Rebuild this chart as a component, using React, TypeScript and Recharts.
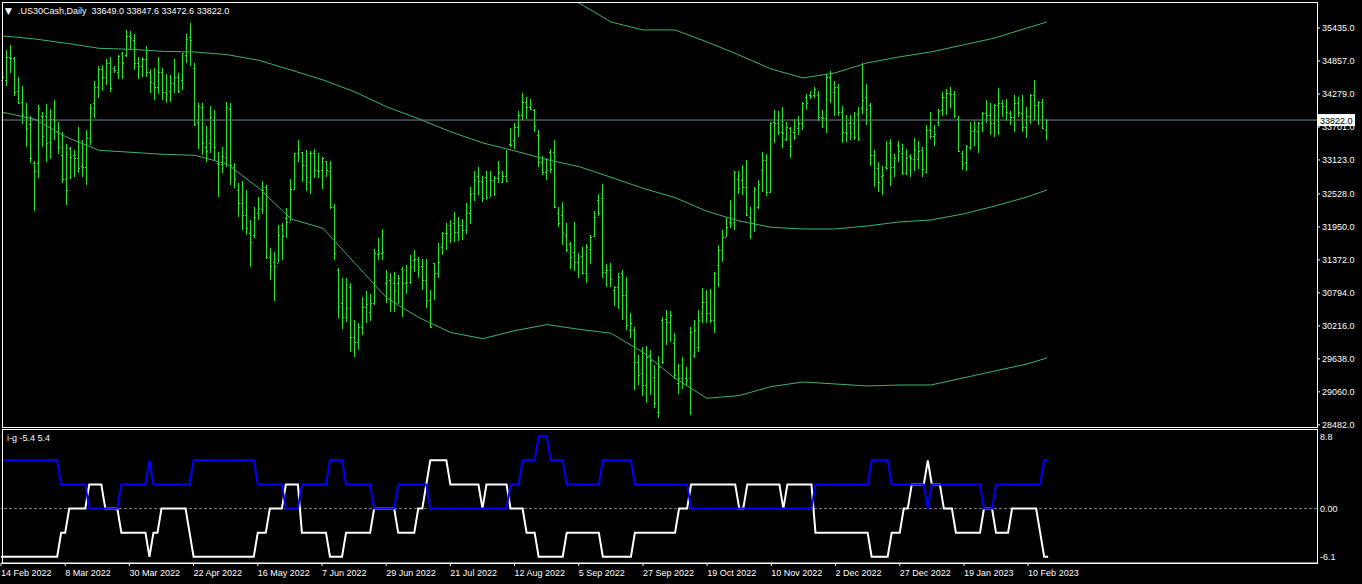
import React from 'react';
import { ComposedChart, Bar, Line, XAxis, YAxis, ReferenceLine } from 'recharts';

const FONT = "'Liberation Sans', Arial, sans-serif";
const BAR_COLOR = '#22e622';
const ENV_COLOR = '#3cb371';

const dateLabels = [
  '14 Feb 2022', '8 Mar 2022', '30 Mar 2022', '22 Apr 2022', '16 May 2022', '7 Jun 2022',
  '29 Jun 2022', '21 Jul 2022', '12 Aug 2022', '5 Sep 2022', '27 Sep 2022', '19 Oct 2022',
  '10 Nov 2022', '2 Dec 2022', '27 Dec 2022', '19 Jan 2023', '10 Feb 2023',
];
const dateTickIdx = [0, 16, 32, 48, 64, 80, 96, 112, 128, 144, 160, 176, 192, 208, 224, 240, 256];

const priceTicks = [35435, 34857, 34279, 33701, 33123, 32528, 31950, 31372, 30794, 30216, 29638, 29060, 28482];
const subTicks = [8.8, 0, -6.1];

// daily OHLC, one entry per bar
const opens = [
  34520, 34524, 34921, 34903, 34331, 34144, 33881, 33753, 33075, 33075,
  33887, 33887, 33432, 33835, 33619, 33210, 32783, 33327, 33210, 33163,
  33017, 33005, 33502, 34115, 34407, 34711, 34571, 34816, 34728, 34670,
  34991, 34962, 35295, 35225, 34827, 34769, 34886, 34670, 34465, 34407,
  34670, 34319, 34331, 34465, 34571, 34524, 34962, 35283, 34728, 33793,
  34045, 33356, 33414, 33823, 33075, 33052, 33181, 34010, 33005, 32597,
  32363, 32159, 31837, 31808, 32188, 32258, 32644, 31429, 31341, 31312,
  31984, 32101, 32042, 32609, 33239, 33269, 33029, 32743, 33251, 32947,
  32947, 33100, 32936, 32305, 31200, 30623, 30366, 30903, 30016, 29940,
  30203, 30553, 30465, 30611, 31476, 31499, 30973, 31020, 30973, 30962,
  31207, 30962, 30990, 31371, 31382, 31265, 31020, 30670, 31312, 31137,
  31600, 31850, 31984, 32013, 31867, 31984, 31896, 32188, 32540, 32842,
  32761, 32819, 32480, 32772, 32801, 32743, 32842, 33400, 33473, 33695,
  33911, 34145, 34045, 34000, 33560, 33093, 32918, 33269, 33269, 32188,
  32159, 31808, 31651, 31517, 31341, 31447, 31148, 31557, 31797, 32422,
  32451, 31166, 31195, 30845, 30903, 31148, 30757, 30144, 30144, 29589,
  29397, 29181, 29706, 29327, 28713, 30320, 30331, 30290, 29911, 29210,
  29298, 29298, 29298, 29706, 29852, 30448, 30641, 30448, 30320, 31283,
  31546, 31779, 32042, 32042, 32784, 32772, 32655, 32130, 32013, 32305,
  32947, 33122, 32568, 33794, 33765, 33619, 33484, 33677, 33618, 33677,
  33776, 34220, 34261, 34261, 34261, 33881, 33852, 34582, 34319, 34395,
  33969, 33618, 33776, 33776, 33928, 34027, 34220, 34090, 33210, 32976,
  32842, 33005, 33414, 33005, 33385, 33239, 32900, 33192, 33134, 33134,
  33297, 32918, 33648, 33543, 33794, 33998, 34220, 34290, 34278, 33834,
  33239, 33093, 33344, 33636, 33636, 33776, 33940, 33910, 33776, 34086,
  34115, 34068, 33951, 33881, 34115, 33940, 33706, 33893, 34261, 34086,
  34144, 33649,
];
const highs = [
  34863, 35049, 35137, 34921, 34582, 34425, 34121, 33893, 33099, 34086,
  33963, 34103, 34016, 34173, 33794, 33619, 33403, 33356, 33298, 33700,
  33473, 33648, 34097, 34506, 34775, 34787, 34892, 34921, 34763, 34962,
  35020, 35400, 35382, 35324, 34933, 34933, 35119, 34711, 34728, 34933,
  34728, 34629, 34611, 34886, 34641, 35003, 35330, 35517, 34816, 34127,
  34127, 33718, 34068, 33998, 33262, 33356, 34138, 34115, 33064, 32725,
  32754, 32597, 32071, 32305, 32480, 32760, 32685, 31575, 31505, 31984,
  32013, 32276, 32784, 33239, 33473, 33269, 33298, 33280, 33309, 33239,
  33181, 33111, 33111, 32346, 31225, 31049, 31061, 30973, 30320, 30261,
  30717, 30827, 30775, 31557, 31750, 31908, 31195, 31137, 31166, 31108,
  31254, 31283, 31458, 31546, 31429, 31382, 31382, 30845, 31324, 31663,
  31867, 32025, 32071, 32217, 32118, 32083, 32363, 32644, 32930, 32994,
  32842, 32930, 32930, 32842, 33111, 32936, 33298, 33677, 33765, 33987,
  34291, 34221, 34185, 34016, 33648, 33193, 33152, 33309, 33473, 32305,
  32393, 32013, 31692, 32042, 31487, 31604, 31651, 31808, 32235, 32527,
  32702, 31300, 31324, 30915, 31137, 31195, 31079, 30436, 30191, 29706,
  29852, 29864, 29794, 29531, 29689, 30378, 30495, 30483, 30098, 29549,
  29677, 29490, 30203, 30320, 30495, 30874, 30845, 30862, 31166, 31633,
  31896, 32118, 32422, 32936, 32936, 33035, 33122, 32305, 32655, 32772,
  33269, 33228, 33783, 33999, 33987, 34057, 33794, 33706, 33834, 33893,
  34144, 34278, 34337, 34395, 34337, 33998, 34629, 34687, 34512, 34454,
  34068, 33910, 33910, 33969, 34045, 34827, 34454, 34115, 33297, 33093,
  33017, 33461, 33484, 33227, 33455, 33396, 33309, 33227, 33502, 33455,
  33344, 33735, 33969, 33735, 34010, 34319, 34360, 34407, 34337, 33893,
  33286, 33385, 33794, 33811, 33794, 33969, 34173, 34115, 34103, 34378,
  34173, 34185, 33986, 34261, 34232, 34261, 34056, 34278, 34524, 34162,
  34185, 33847.6,
];
const lows = [
  34290, 34425, 34641, 34232, 34115, 33765, 33356, 33075, 32217, 32813,
  33356, 33093, 33146, 33473, 33239, 32725, 32334, 32801, 32830, 32900,
  32830, 32690, 33385, 33852, 34209, 34331, 34430, 34314, 34641, 34547,
  34547, 34933, 35061, 34699, 34553, 34582, 34571, 34290, 34173, 34290,
  34173, 34115, 34144, 34290, 34290, 34349, 34827, 34758, 33706, 33327,
  33210, 33093, 33251, 33122, 32468, 32900, 33005, 32684, 32626, 32129,
  31896, 31808, 31242, 31767, 32071, 32188, 31382, 31009, 30641, 31312,
  31359, 31750, 32042, 32585, 33093, 32737, 32585, 32527, 32801, 32801,
  32615, 32831, 32276, 31371, 30349, 30156, 30290, 29765, 29677, 29794,
  30057, 30261, 30308, 30582, 31371, 31371, 30611, 30448, 30465, 30600,
  30378, 30775, 30950, 31166, 31067, 30845, 30524, 30173, 30670, 31049,
  31458, 31557, 31663, 31692, 31692, 31721, 31826, 32001, 32410, 32509,
  32393, 32422, 32470, 32492, 32725, 32725, 32743, 33345, 33309, 33531,
  33823, 33835, 33999, 33619, 33006, 32860, 32761, 32889, 32276, 31955,
  31633, 31499, 31213, 31184, 31049, 31137, 30973, 31300, 31780, 32141,
  31049, 30903, 30903, 30565, 30506, 30320, 30156, 29998, 29093, 29181,
  28988, 28859, 29005, 28772, 28597, 29560, 29881, 29940, 29298, 29023,
  29122, 29163, 28655, 29648, 29765, 30261, 30261, 30273, 30098, 30903,
  31341, 31770, 31926, 31908, 32539, 32509, 32141, 31750, 31867, 32258,
  32568, 32492, 32539, 33415, 33560, 33345, 33461, 33169, 33461, 33560,
  33648, 33998, 34202, 34202, 33811, 33677, 33601, 34126, 33893, 33893,
  33426, 33443, 33472, 33472, 33443, 33928, 33735, 33017, 32655, 32567,
  32509, 32947, 32666, 32818, 33093, 32859, 32859, 32830, 32918, 32958,
  32818, 32900, 33502, 33367, 33706, 33893, 33910, 34045, 33870, 33268,
  32958, 32935, 33309, 33367, 33250, 33618, 33764, 33560, 33519, 33560,
  33870, 33794, 33735, 33618, 33881, 33618, 33519, 33753, 33823, 33735,
  33659, 33472.6,
];
const closes = [
  34571, 34921, 34903, 34319, 34127, 33911, 33677, 33152, 32929, 34027,
  33543, 33414, 33840, 33823, 33344, 32783, 32597, 33181, 33163, 32988,
  33005, 33502, 34027, 34407, 34711, 34571, 34816, 34378, 34699, 34944,
  34816, 35295, 35254, 34827, 34769, 34886, 34670, 34483, 34407, 34670,
  34319, 34279, 34465, 34571, 34331, 34991, 35236, 35225, 33747, 34068,
  33414, 33280, 33881, 33356, 33052, 33192, 34045, 33035, 32795, 32363,
  32159, 31925, 31691, 32129, 32275, 32597, 31429, 31265, 31265, 31809,
  31797, 32042, 32609, 33239, 33309, 33029, 32819, 33239, 32947, 32930,
  33152, 32947, 32293, 31487, 30565, 30366, 30524, 30016, 29940, 30191,
  30553, 30600, 30611, 31487, 31499, 31517, 31009, 30670, 30845, 31049,
  30962, 30990, 31242, 31382, 31254, 31020, 30670, 30203, 31137, 31341,
  31850, 31838, 31838, 31867, 31984, 31896, 32217, 32527, 32772, 32761,
  32451, 32480, 32772, 32801, 32918, 32842, 32760, 33385, 33695, 33911,
  34145, 34045, 34010, 33718, 33093, 32918, 32947, 32965, 32305, 32013,
  31838, 31546, 31429, 31341, 31429, 31148, 31604, 31780, 32130, 32200,
  31166, 31195, 31032, 30892, 31079, 30757, 30232, 30261, 29589, 29356,
  29181, 29677, 29619, 28859, 29502, 29589, 30290, 30407, 29356, 29298,
  29210, 29268, 30115, 30144, 30320, 30641, 30436, 30320, 31137, 31546,
  31779, 31943, 32013, 32918, 32626, 32655, 32159, 32025, 32609, 32700,
  33122, 32568, 33765, 33765, 33619, 33590, 33707, 33367, 33531, 33764,
  34126, 34126, 34240, 34360, 33881, 33852, 34582, 34652, 34395, 33969,
  33618, 33589, 33589, 33519, 33484, 34173, 34010, 33210, 32877, 32742,
  32859, 32976, 32994, 33151, 33286, 32900, 33151, 33151, 33297, 33286,
  32958, 33648, 33543, 33578, 33986, 34220, 34290, 34278, 33910, 33286,
  33052, 33367, 33636, 33660, 33776, 33940, 33910, 33776, 34086, 34115,
  34068, 33969, 33881, 34126, 33969, 33706, 33893, 34261, 34086, 34144,
  33677, 33822.0,
];

// envelope (upper / middle / lower), read every 8 bars
const envIdx = [0, 8, 16, 24, 32, 40, 48, 56, 64, 72, 80, 88, 96, 104, 112, 120, 128, 136, 144, 152, 160, 168, 176, 184, 192, 200, 208, 216, 224, 232, 240, 248, 256, 261];
const envUpper = [null, null, null, null, null, null, null, null, null, null, null, null, null, null, null, null, null,
  36020, 35873, 35540, 35400, 35400, 35190, 34962, 34717, 34559, 34647, 34822, 34927, 35015, 35137, 35260, 35435, 35540];
const envMid = [35295, 35242, 35166, 35079, 35061, 35026, 35014, 34968, 34868, 34699, 34524, 34314, 34051, 33841, 33613, 33420, 33280,
  33128, 33006, 32819, 32626, 32463, 32223, 32054, 31943, 31913, 31913, 31966, 32036, 32071, 32176, 32316, 32474, 32597];
const envLower = [33957, 33835, 33519, 33292, 33257, 33222, 33204, 33052, 32626, 32089, 31925, 31312, 30699, 30360, 30098, 29992, 30133,
  30238, 30156, 30086, 29753, 29298, 28947, 28994, 29151, 29233, 29198, 29163, 29180, 29180, 29303, 29426, 29548, 29654];

// indicator window, runs of [value, number of bars]
const whiteRuns: [number, number][] = [
  [-5.4, 15], [-2.7, 2], [0, 5], [2.7, 4], [0, 4], [-2.7, 7], [-5.4, 1], [-2.7, 2], [0, 7], [-2.7, 1],
  [-5.4, 16], [-2.7, 3], [0, 4], [2.7, 4], [-2.7, 7], [-5.4, 4], [-2.7, 7], [0, 6], [-2.7, 5], [0, 2],
  [2.7, 1], [5.4, 5], [2.7, 8], [0, 1], [2.7, 6], [0, 4], [-2.7, 3], [-5.4, 7], [-2.7, 9], [-5.4, 8],
  [-2.7, 11], [0, 3], [2.7, 12], [0, 2], [2.7, 9], [0, 1], [2.7, 7], [-2.7, 14], [-5.4, 5], [-2.7, 3],
  [0, 2], [2.7, 4], [5.4, 1], [2.7, 3], [0, 3], [-2.7, 7], [0, 3], [-2.7, 4], [0, 7], [-2.7, 1], [-5.4, 2],
];
const blueRuns: [number, number][] = [
  [5.4, 15], [2.7, 7], [0, 8], [2.7, 7], [5.4, 1], [2.7, 10], [5.4, 16], [2.7, 7], [0, 4], [2.7, 7],
  [5.4, 4], [2.7, 7], [0, 6], [2.7, 8], [0, 20], [2.7, 3], [5.4, 4], [8.1, 3], [5.4, 4], [2.7, 9],
  [5.4, 8], [2.7, 14], [0, 31], [2.7, 14], [5.4, 5], [2.7, 9], [0, 1], [2.7, 13], [0, 3], [2.7, 12], [5.4, 2],
];

const SLOTS = 329;
const expand = (runs: [number, number][]) => runs.flatMap(([v, n]) => Array(n).fill(v));
const whiteVals = expand(whiteRuns);
const blueVals = expand(blueRuns);

const rows: any[] = Array.from({ length: SLOTS }, (_, i) => {
  const r: any = { i };
  if (i < opens.length) {
    r.o = opens[i];
    r.h = highs[i];
    r.l = lows[i];
    r.c = closes[i];
    r.range = [lows[i], highs[i]];
    r.white = whiteVals[i];
    r.blue = blueVals[i];
  }
  return r;
});
envIdx.forEach((idx, k) => {
  rows[idx].mid = envMid[k];
  rows[idx].lo = envLower[k];
  if (envUpper[k] != null) rows[idx].up = envUpper[k];
});

const last = rows[opens.length - 1];

const OhlcShape = (props: any) => {
  const { x, y, width, height, payload } = props;
  if (!payload || payload.h == null || !isFinite(y) || !isFinite(height)) return null;
  const top = Math.min(y, y + height);
  const h = Math.abs(height);
  const cx = Math.round(x + width / 2) - 1;
  const span = payload.h - payload.l || 1;
  const yo = Math.round(top + ((payload.h - payload.o) / span) * h);
  const yc = Math.round(top + ((payload.h - payload.c) / span) * h);
  return (
    <g fill={BAR_COLOR}>
      <rect x={cx} y={Math.round(top)} width={1} height={Math.max(Math.round(h), 1)} />
      <rect x={cx - 1} y={yo} width={1} height={1} />
      <rect x={cx + 1} y={yc} width={1} height={1} />
    </g>
  );
};

const PriceTag = (props: any) => {
  const vb = props.viewBox || {};
  const x = (vb.x || 0) + (vb.width || 0) + 1;
  const y = vb.y || 0;
  return (
    <g>
      <rect x={x} y={y - 6} width={37} height={12} fill="#ffffff" />
      <text x={x + 2} y={y + 3.5} fill="#000000" fontSize={9} fontFamily={FONT}>
        {last.c.toFixed(1)}
      </text>
    </g>
  );
};

const DateTick = (props: any) => {
  const { x, y, payload } = props;
  const k = dateTickIdx.indexOf(payload.value);
  if (k < 0) return null;
  return (
    <text x={x} y={y + 10} fill="#ffffff" fontSize={9} fontFamily={FONT}>
      {dateLabels[k]}
    </text>
  );
};

const SubTick = (props: any) => {
  const { x, y, payload } = props;
  const v = payload.value as number;
  const label = v === 0 ? '0.00' : v.toFixed(1);
  const dy = v > 0 ? 7 : v < 0 ? -6 : 0;
  return (
    <text x={x} y={y + dy + 3} fill="#ffffff" fontSize={9} fontFamily={FONT}>
      {label}
    </text>
  );
};

export default function App() {
  const fmt = (v: number) => v.toFixed(1);
  return (
    <div style={{ position: 'absolute', left: 0, top: 0, width: 1362, height: 584, background: '#000', overflow: 'hidden' }}>
      <div style={{ position: 'absolute', left: 0, top: 0 }}>
        <ComposedChart width={1362} height={430} data={rows} margin={{ top: 2, right: 0, left: 1, bottom: 3 }}>
          <XAxis dataKey="i" type="category" hide />
          <YAxis
            orientation="right"
            type="number"
            width={45}
            domain={[28444, 35890]}
            allowDataOverflow
            ticks={priceTicks}
            interval={0}
            tickFormatter={fmt}
            tick={{ fill: '#ffffff', fontSize: 9, fontFamily: FONT }}
            tickLine={{ stroke: '#ffffff' }}
            axisLine={false}
            tickSize={3}
            tickMargin={2}
          />
          <Line dataKey="up" stroke={ENV_COLOR} strokeWidth={1} dot={false} connectNulls isAnimationActive={false} />
          <Line dataKey="mid" stroke={ENV_COLOR} strokeWidth={1} dot={false} connectNulls isAnimationActive={false} />
          <Line dataKey="lo" stroke={ENV_COLOR} strokeWidth={1} dot={false} connectNulls isAnimationActive={false} />
          <Bar dataKey="range" shape={OhlcShape} isAnimationActive={false} />
          <ReferenceLine y={last.c} stroke="#778899" strokeWidth={1} label={PriceTag} />
        </ComposedChart>
      </div>
      <div style={{ position: 'absolute', left: 0, top: 429 }}>
        <ComposedChart width={1362} height={155} data={rows} margin={{ top: 1, right: 0, left: 1, bottom: 0 }}>
          <XAxis
            dataKey="i"
            type="category"
            height={21}
            ticks={dateTickIdx}
            interval={0}
            tick={DateTick}
            tickLine={{ stroke: '#ffffff' }}
            axisLine={{ stroke: '#ffffff' }}
            tickSize={3}
            tickMargin={0}
          />
          <YAxis
            orientation="right"
            type="number"
            width={45}
            domain={[-6.1, 8.8]}
            allowDataOverflow
            ticks={subTicks}
            interval={0}
            tick={SubTick}
            tickLine={false}
            axisLine={false}
            tickSize={0}
            tickMargin={3}
          />
          <ReferenceLine y={0} stroke="#808080" strokeDasharray="3 2" />
          <Line dataKey="white" stroke="#ffffff" strokeWidth={2} dot={false} isAnimationActive={false} />
          <Line dataKey="blue" stroke="#0000ff" strokeWidth={2} dot={false} isAnimationActive={false} />
        </ComposedChart>
      </div>
      <svg width={1362} height={584} style={{ position: 'absolute', left: 0, top: 0, pointerEvents: 'none' }}>
        <rect x={2.5} y={2.5} width={1315} height={425} fill="none" stroke="#ffffff" strokeWidth={1} />
        <rect x={2.5} y={429.5} width={1315} height={134} fill="none" stroke="#ffffff" strokeWidth={1} />
        <text x={5} y={14} fill="#ffffff" fontSize={9} fontFamily="'DejaVu Sans', sans-serif">▼</text>
        <text x={18} y={14} fill="#ffffff" fontSize={9} fontFamily={FONT} xmlSpace="preserve">
          {`.US30Cash,Daily  ${last.o.toFixed(1)} ${last.h.toFixed(1)} ${last.l.toFixed(1)} ${last.c.toFixed(1)}`}
        </text>
        <text x={7} y={441} fill="#ffffff" fontSize={9} fontFamily={FONT} xmlSpace="preserve">
          {`i-g ${last.white.toFixed(1)} ${last.blue.toFixed(1)}`}
        </text>
      </svg>
    </div>
  );
}
